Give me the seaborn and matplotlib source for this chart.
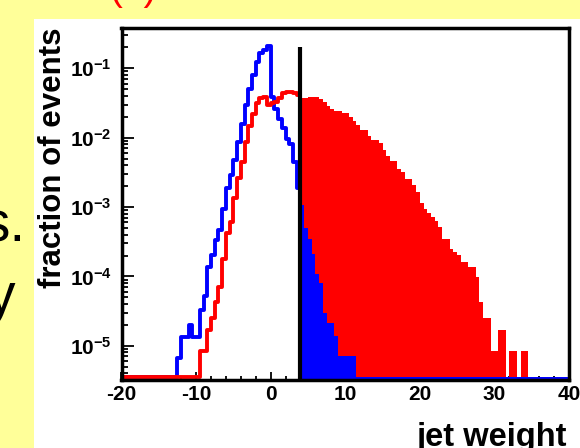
import numpy as np
import pandas as pd
import matplotlib
matplotlib.use('Agg')
import matplotlib.pyplot as plt
from matplotlib.patches import Rectangle
from matplotlib.ticker import MultipleLocator, LogLocator, FuncFormatter, NullFormatter
import seaborn as sns

# binning of the jet weight: 0.5 wide bins, cut at 4
bin_lo, bin_hi, bin_w = -20.0, 40.0, 0.5
cut = 4.0
cut_top = 0.2
y_lo, y_hi = 3.26e-6, 0.375
floor = 3.56e-6   # empty bins sit on the bottom of the frame

# fraction of events per bin, left of the cut (outline only)
blue_left = [0] * 15 + [
    6.6e-6, 1.33e-5, 1.33e-5, 2.0e-5, 1.33e-5, 1.33e-5, 3.3e-5, 5.3e-5,
    1.37e-4, 2.05e-4, 3.37e-4, 4.69e-4, 9.4e-4, 1.87e-3, 2.91e-3, 4.84e-3,
    8.8e-3, 0.0158, 0.0291, 0.0506, 0.0805, 0.125, 0.165, 0.181,
    0.211, 0.0392, 0.0255, 0.0183, 0.0136, 9.7e-3, 8.2e-3, 4.5e-3,
    1.85e-3]
red_left = [0] * 21 + [
    8.5e-6, 8.5e-6, 1.7e-5, 2.55e-5, 4.25e-5, 7.0e-5, 1.81e-4, 4.19e-4,
    6.18e-4, 1.34e-3, 2.60e-3, 4.53e-3, 8.8e-3, 0.0145, 0.0223, 0.0321,
    0.0379, 0.0387, 0.0291, 0.0314, 0.0332, 0.0370, 0.0438, 0.0448,
    0.0448, 0.0438, 0.0415]

# right of the cut (filled)
blue_right = [
    1.07e-3, 5.03e-4, 3.42e-4, 2.10e-4, 1.08e-4, 7.9e-5, 2.93e-5, 2.10e-5,
    2.10e-5, 1.38e-5, 7.1e-6, 7.1e-6, 7.1e-6, 7.1e-6, 7.1e-6] + [0] * 57
red_right = [
    0.0369, 0.0369, 0.0382, 0.0382, 0.0382, 0.0357, 0.0327, 0.0286,
    0.0259, 0.0245, 0.0245, 0.0224, 0.0224, 0.0200, 0.0176, 0.0150,
    0.0131, 0.0127, 0.0107, 0.00940, 0.00934, 0.00837, 0.00664, 0.00538,
    0.00464, 0.00464, 0.00353, 0.00320, 0.00251, 0.00251, 0.00208, 0.00164,
    0.00114, 0.000948, 0.000819, 0.000718, 0.000634, 0.000509, 0.000342, 0.000342,
    0.000245, 0.000227, 0.000203, 0.000160, 0.000160, 0.000138, 0.000138, 9.9e-5,
    4.3e-5, 2.55e-5, 2.55e-5, 8.5e-6, 8.5e-6, 1.7e-5, 1.7e-5, 0,
    8.5e-6, 8.5e-6, 0, 8.5e-6, 8.5e-6] + [0] * 11

sns.set_theme(style='white')
plt.rcParams['font.family'] = ['Liberation Sans', 'DejaVu Sans']
plt.rcParams['font.weight'] = 'bold'
plt.rcParams['axes.unicode_minus'] = False
plt.rcParams['mathtext.fontset'] = 'custom'
plt.rcParams['mathtext.bf'] = 'Liberation Sans:bold'
plt.rcParams['mathtext.rm'] = 'Liberation Sans:bold'

W, H = 580, 448
fig = plt.figure(figsize=(W / 100, H / 100), dpi=100, facecolor='#ffff99')
fig.patches.append(Rectangle((34 / W, 0), 1 - 34 / W, 1 - 19 / H, transform=fig.transFigure,
                             facecolor='white', edgecolor='none', zorder=-1))
ax = fig.add_axes([121.5 / W, 1 - 379.5 / H, 447.5 / W, 351 / H])
ax.set_yscale('log')


def frame(values, lo, hi):
    edges = np.arange(lo, hi + bin_w / 2, bin_w)
    v = np.asarray(values, dtype=float)
    d = pd.DataFrame({'w': edges[:-1] + bin_w / 2, 'frac': np.where(v > 0, v, floor)})
    return d, list(edges)


# filled part above the cut: red first, blue on top
for vals, col, z in [(red_right, 'red', 1.0), (blue_right, 'blue', 1.1)]:
    d, e = frame(vals, cut, bin_hi)
    sns.histplot(data=d, x='w', weights='frac', bins=e, element='step', fill=True,
                 color=col, alpha=1, linewidth=0, ax=ax, zorder=z)

# outlines below the cut: red drawn over blue
for vals, col, z in [(blue_left, 'blue', 1.5), (red_left, 'red', 1.6)]:
    d, e = frame(vals, bin_lo, cut)
    sns.histplot(data=d, x='w', weights='frac', bins=e, element='step', fill=False,
                 color=col, linewidth=2.8, ax=ax, zorder=z)

ax.vlines(cut, y_lo, cut_top, color='black', linewidth=3.0, zorder=3)

ax.set_xlim(bin_lo, bin_hi)
ax.set_ylim(y_lo, y_hi)
ax.set_xlabel('')
ax.set_ylabel('')

ax.xaxis.set_major_locator(MultipleLocator(10))
ax.xaxis.set_minor_locator(MultipleLocator(2))
ax.xaxis.set_major_formatter(FuncFormatter(lambda v, p: '%d' % round(v)))
ax.yaxis.set_major_locator(LogLocator(base=10))
ax.yaxis.set_minor_locator(LogLocator(base=10, subs=np.arange(2, 10)))
ax.yaxis.set_major_formatter(FuncFormatter(lambda v, p: r'$\mathbf{10^{%d}}$' % round(np.log10(v))))
ax.yaxis.set_minor_formatter(NullFormatter())

ax.tick_params(which='both', direction='in', top=False, right=False, bottom=True, left=True,
               color='black', width=1.3, labelsize=15, labelcolor='black')
ax.tick_params(axis='x', which='major', length=6, pad=4)
ax.tick_params(axis='x', which='minor', length=3.2)
ax.tick_params(axis='y', which='major', length=8.5, pad=7)
ax.tick_params(axis='y', which='minor', length=4.3)
for s in ax.spines.values():
    s.set_color('black')
    s.set_linewidth(2.5)
    s.set_visible(True)

fig.text(53 / W, 1 - 28 / H, 'fraction of events', rotation=90, ha='center', va='top',
         fontsize=22.5, color='black')
fig.text(567 / W, 1 - 446 / H, 'jet weight', ha='right', va='baseline', fontsize=23.5, color='black')

# pieces of the surrounding slide
fig.text(133 / W, 1.0, '(b)', ha='center', va='baseline', fontsize=28, color='red',
         fontweight='normal')
fig.text(26 / W, 1 - 241 / H, 's.', ha='right', va='baseline', fontsize=41, color='black',
         fontweight='normal')
fig.text(15 / W, 1 - 313 / H, 'y', ha='right', va='baseline', fontsize=41, color='black',
         fontweight='normal')

fig.savefig('out.png', dpi=100, facecolor=fig.get_facecolor())
